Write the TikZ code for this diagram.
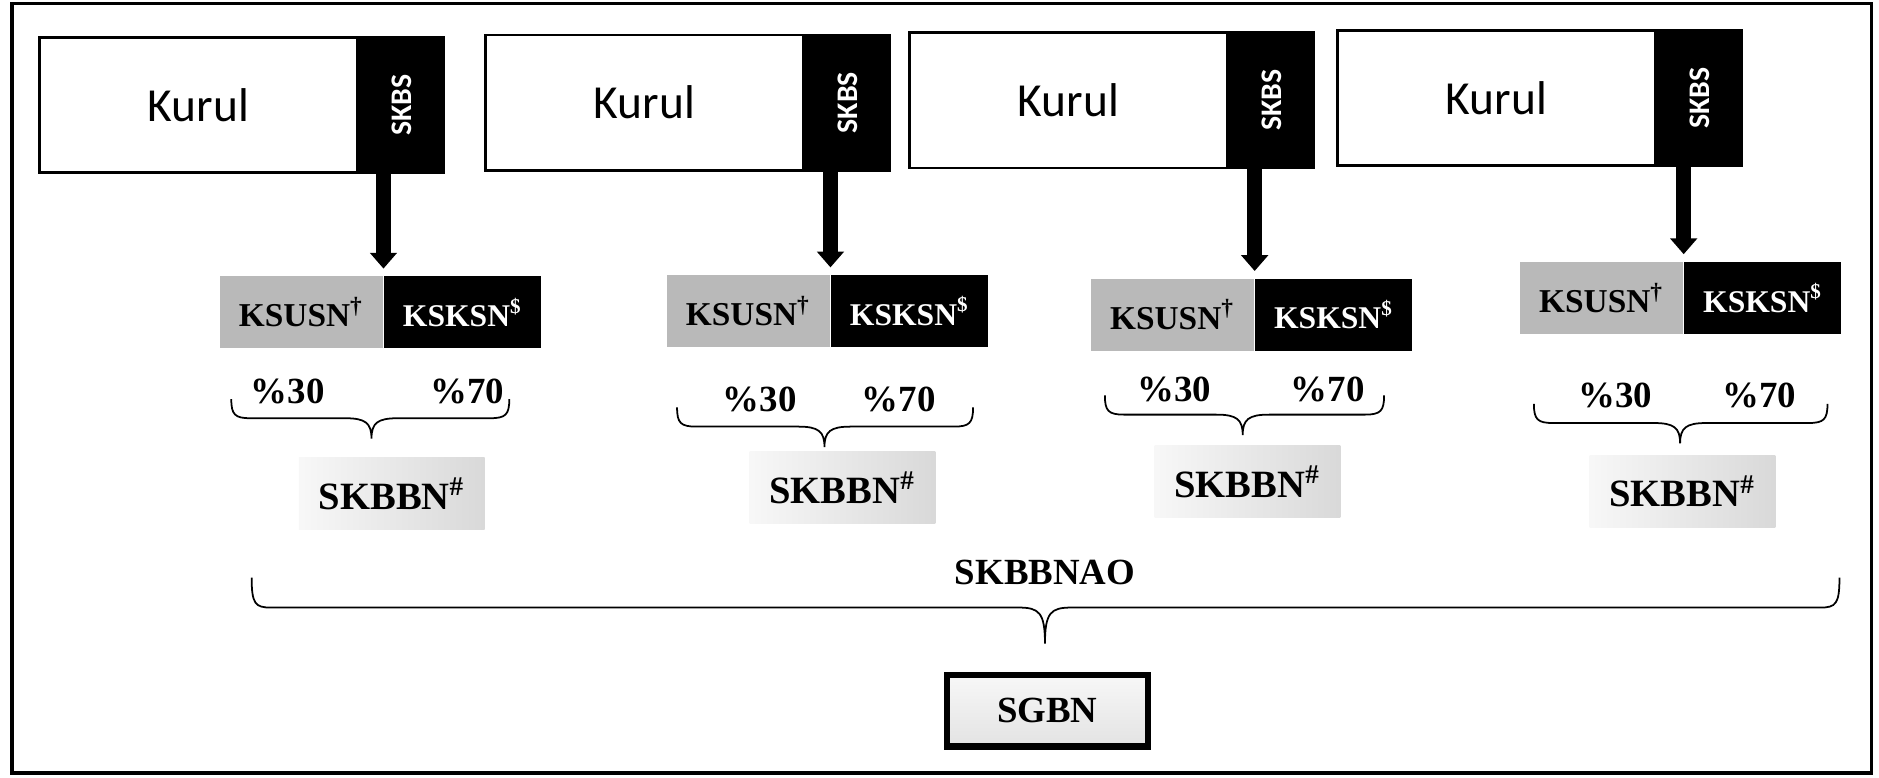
\documentclass[tikz,border=0pt]{standalone}
\usepackage{fontspec}
\setmainfont{Liberation Serif}
\newfontfamily\calibri{Carlito}
\usepackage{graphicx}
\usetikzlibrary{arrows.meta}
\newcommand{\pxu}{0.012cm}
% left x, right x, tip x, top y, middle y, bottom y
\newcommand{\curlybrace}[6]{%
  \draw[bracestyle] (#1,#4) .. controls (#1,#5-3) and (#1+3,#5) .. (#1+16,#5)
    -- (#3-22,#5) .. controls (#3-5,#5) and (#3,#5+4) .. (#3,#6)
    .. controls (#3,#5+4) and (#3+5,#5) .. (#3+22,#5)
    -- (#2-16,#5) .. controls (#2-3,#5) and (#2,#5-3) .. (#2,#4);}

\begin{document}
\begin{tikzpicture}[x=0.012cm, y=-0.012cm]
  \tikzset{
    kurulbox/.style={draw, line width=0.8pt, fill=white, anchor=north west,
      minimum width=265*\pxu, minimum height=113*\pxu, inner sep=0pt,
      font=\calibri\fontsize{13.5}{15}\selectfont},
    skbsbox/.style={draw, line width=0.8pt, fill=black, text=white, anchor=north west,
      minimum width=70*\pxu, minimum height=113*\pxu, inner sep=0pt,
      font=\calibri\bfseries\fontsize{8.5}{10}\selectfont},
    ksusnbox/.style={fill=gray!55, anchor=north east, minimum width=136*\pxu,
      minimum height=60*\pxu, inner sep=0pt, font=\bfseries\fontsize{9.5}{11}\selectfont},
    ksksnbox/.style={fill=black, text=white, anchor=north west, minimum width=131*\pxu,
      minimum height=60*\pxu, inner sep=0pt, font=\bfseries\fontsize{9}{11}\selectfont},
    bigarrow/.style={line width=4.2pt, -{Triangle[width=7.5pt,length=4.5pt]}, shorten >=2pt},
    perc/.style={font=\bfseries\fontsize{10.5}{12}\selectfont, inner sep=1pt},
    bracestyle/.style={line width=0.5pt},
    skbbnbox/.style={left color=gray!6, right color=gray!30, minimum width=155*\pxu,
      minimum height=60*\pxu, inner sep=0pt, font=\bfseries\fontsize{11}{13}\selectfont},
    sgbnbox/.style={draw, line width=1.8pt, top color=gray!6, bottom color=gray!22,
      minimum width=168*\pxu, minimum height=60*\pxu, inner sep=0pt,
      font=\bfseries\fontsize{10.5}{12}\selectfont}
  }
  \useasboundingbox (0,0) rectangle (1568,649);
  \draw[line width=0.9pt] (10,3) rectangle (1562,645);

  % first group
  \node[kurulbox] (kurul1) at (32,30) {Kurul};
  \node[skbsbox] (skbs1) at (kurul1.north east) {\rotatebox{90}{SKBS}};
  \node[ksusnbox] (ksusn1) at (320,230) {KSUSN\textsuperscript{\dag}};
  \node[ksksnbox] (ksksn1) at (ksusn1.north east) {KSKSN\textsuperscript{\$}};
  \draw[bigarrow] (skbs1.south -| ksusn1.north east) -- (ksusn1.north east);
  \node[perc] (pa1) at (240,327) {\%30};
  \node[perc] (pb1) at (390,327) {\%70};
  \curlybrace{193}{425}{310}{333}{349}{366}
  \node[skbbnbox] (skbbn1) at (327,412) {SKBBN\textsuperscript{\#}};

  % second group
  \node[kurulbox] (kurul2) at (404,28) {Kurul};
  \node[skbsbox] (skbs2) at (kurul2.north east) {\rotatebox{90}{SKBS}};
  \node[ksusnbox] (ksusn2) at (693,229) {KSUSN\textsuperscript{\dag}};
  \node[ksksnbox] (ksksn2) at (ksusn2.north east) {KSKSN\textsuperscript{\$}};
  \draw[bigarrow] (skbs2.south -| ksusn2.north east) -- (ksusn2.north east);
  \node[perc] (pa2) at (634,333) {\%30};
  \node[perc] (pb2) at (750,333) {\%70};
  \curlybrace{565}{812}{688}{340}{356}{373}
  \node[skbbnbox] (skbbn2) at (703,407) {SKBBN\textsuperscript{\#}};

  % third group
  \node[kurulbox] (kurul3) at (758,26) {Kurul};
  \node[skbsbox] (skbs3) at (kurul3.north east) {\rotatebox{90}{SKBS}};
  \node[ksusnbox] (ksusn3) at (1047,232) {KSUSN\textsuperscript{\dag}};
  \node[ksksnbox] (ksksn3) at (ksusn3.north east) {KSKSN\textsuperscript{\$}};
  \draw[bigarrow] (skbs3.south -| ksusn3.north east) -- (ksusn3.north east);
  \node[perc] (pa3) at (980,325) {\%30};
  \node[perc] (pb3) at (1108,325) {\%70};
  \curlybrace{922}{1155}{1037}{330}{346}{363}
  \node[skbbnbox] (skbbn3) at (1041,402) {SKBBN\textsuperscript{\#}};

  % fourth group
  \node[kurulbox] (kurul4) at (1115,24) {Kurul};
  \node[skbsbox] (skbs4) at (kurul4.north east) {\rotatebox{90}{SKBS}};
  \node[ksusnbox] (ksusn4) at (1405,218) {KSUSN\textsuperscript{\dag}};
  \node[ksksnbox] (ksksn4) at (ksusn4.north east) {KSKSN\textsuperscript{\$}};
  \draw[bigarrow] (skbs4.south -| ksusn4.north east) -- (ksusn4.north east);
  \node[perc] (pa4) at (1348,330) {\%30};
  \node[perc] (pb4) at (1468,330) {\%70};
  \curlybrace{1280}{1525}{1402}{337}{353}{370}
  \node[skbbnbox] (skbbn4) at (1404,410) {SKBBN\textsuperscript{\#}};

  % overall
  \node[perc] (skbbnao) at (872,478) {SKBBNAO};
  \curlybrace{210}{1535}{872}{482}{507}{537}
  \node[sgbnbox] (sgbn) at (874,593) {SGBN};
\end{tikzpicture}
\end{document}
